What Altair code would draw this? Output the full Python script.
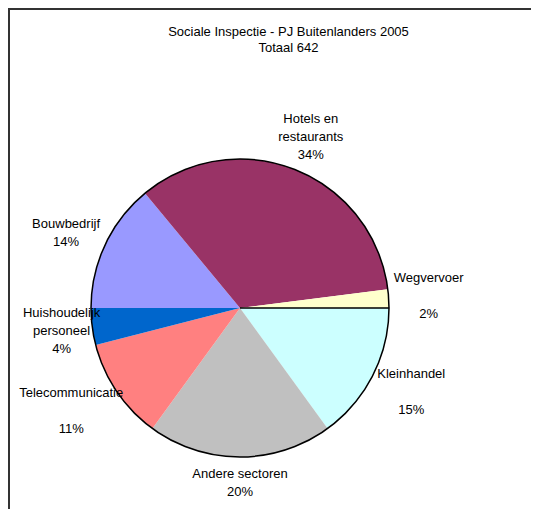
import altair as alt
import pandas as pd

# Data (clockwise from 3 o'clock, as in the reference)
categories = ["Kleinhandel", "Andere sectoren", "Telecommunicatie",
              "Huishoudelijk personeel", "Bouwbedrijf",
              "Hotels en restaurants", "Wegvervoer"]
percentages = [15, 20, 11, 4, 14, 34, 2]
label_names = [["Kleinhandel", ""], ["Andere sectoren"], ["Telecommunicatie", ""],
               ["Huishoudelijk", "personeel"], ["Bouwbedrijf"],
               ["Hotels en", "restaurants"], ["Wegvervoer", ""]]
colors = ["#CCFFFF", "#C0C0C0", "#FF8080", "#0066CC", "#9999FF",
          "#993366", "#FFFFCC"]
title_lines = ["Sociale Inspectie - PJ Buitenlanders 2005", "Totaal 642"]

# label lines placed in half-line slots so each block is centred on its anchor
SLOTS = [-2, -1, 0, 1, 2]
slot_cols = {s: [] for s in SLOTS}
for names, p in zip(label_names, percentages):
    lines = names + [f"{p}%"]
    n = len(lines)
    keys = [2 * i - (n - 1) for i in range(n)]
    for s in SLOTS:
        slot_cols[s].append(lines[keys.index(s)] if s in keys else "")

df = pd.DataFrame({
    "sector": categories,
    "pct": percentages,
    "rank": list(range(len(categories))),
})
for s in SLOTS:
    df[f"l{s + 2}"] = slot_cols[s]

W, H, PT = 523, 451, 50
CX, CY, R = 232, 250, 149
GAP = 8          # gap between pie edge and label box
CHW = 6.4        # approx. character width at 13px
EDGE = 12        # labels are kept this far inside the chart frame
LH = 18
FONT = "Liberation Sans"

theta_scale = alt.Scale(range=[1.5707963, 7.8539816])
color_scale = alt.Scale(domain=categories, range=colors)

base = alt.Chart(df).encode(
    theta=alt.Theta("pct:Q", stack=True, scale=theta_scale),
    order=alt.Order("rank:Q"),
)

slices = base.mark_arc(outerRadius=R, strokeWidth=0).encode(
    color=alt.Color("sector:N", scale=color_scale, legend=None),
    x=alt.value(CX), y=alt.value(CY),
)

outline = alt.Chart(df).transform_aggregate(
    total="sum(pct)"
).mark_arc(outerRadius=R, fillOpacity=0, stroke="black", strokeWidth=1.5).encode(
    theta=alt.Theta("total:Q", stack=True, scale=theta_scale),
    x=alt.value(CX), y=alt.value(CY),
)

# Excel-like outside-end labels: box offset outward from the slice's mid-angle
label_base = alt.Chart(df).transform_joinaggregate(
    total="sum(pct)"
).transform_window(
    cum="sum(pct)", sort=[alt.SortField("rank")]
).transform_calculate(
    ang="2*PI*(datum.cum - datum.pct/2)/datum.total",
    hw=f"{CHW}/2*max(length(datum.l0),length(datum.l1),length(datum.l2),length(datum.l3),length(datum.l4))",
    hh=f"(datum.l0 != '' || datum.l4 != '') ? {1.5 * LH} : {LH}",
).transform_calculate(
    ox=f"max(({R + GAP} + datum.hw)*cos(datum.ang), -({CX - EDGE} - datum.hw))",
    oy=f"({R + GAP} + datum.hh)*sin(datum.ang)",
).transform_calculate(
    vang="PI/2 + atan2(datum.oy, datum.ox)",
    lr="sqrt(datum.ox*datum.ox + datum.oy*datum.oy)",
)

label_layers = [
    label_base.mark_text(
        font=FONT, fontSize=13, color="black",
        align="center", baseline="middle", dy=s * LH / 2,
    ).encode(
        text=f"l{s + 2}:N",
        theta=alt.Theta("vang:Q", scale=None, stack=False),
        radius=alt.Radius("lr:Q", scale=None),
        x=alt.value(CX), y=alt.value(CY),
    )
    for s in SLOTS
]

# chart-area frame: only its top and left edges fall inside the picture
frame_df = pd.DataFrame({"k": [0]})
frame = alt.Chart(frame_df).mark_rect(
    fillOpacity=0, stroke="#333333", strokeWidth=2
).encode(
    x=alt.value(1), x2=alt.value(W + 40),
    y=alt.value(-PT + 1), y2=alt.value(H + 40),
)

chart = alt.layer(slices, outline, *label_layers, frame).properties(
    width=W, height=H,
    autosize=alt.AutoSizeParams(type="none"),
    padding={"left": 0, "top": PT, "right": 0, "bottom": 0},
    title=alt.TitleParams(
        text=title_lines, font=FONT, fontSize=13, fontWeight="normal",
        color="black", anchor="middle", dx=19, lineHeight=16, offset=-47,
    ),
).configure_view(stroke=None)

chart.save("out.html", embed_options={"renderer": "svg", "actions": False})
